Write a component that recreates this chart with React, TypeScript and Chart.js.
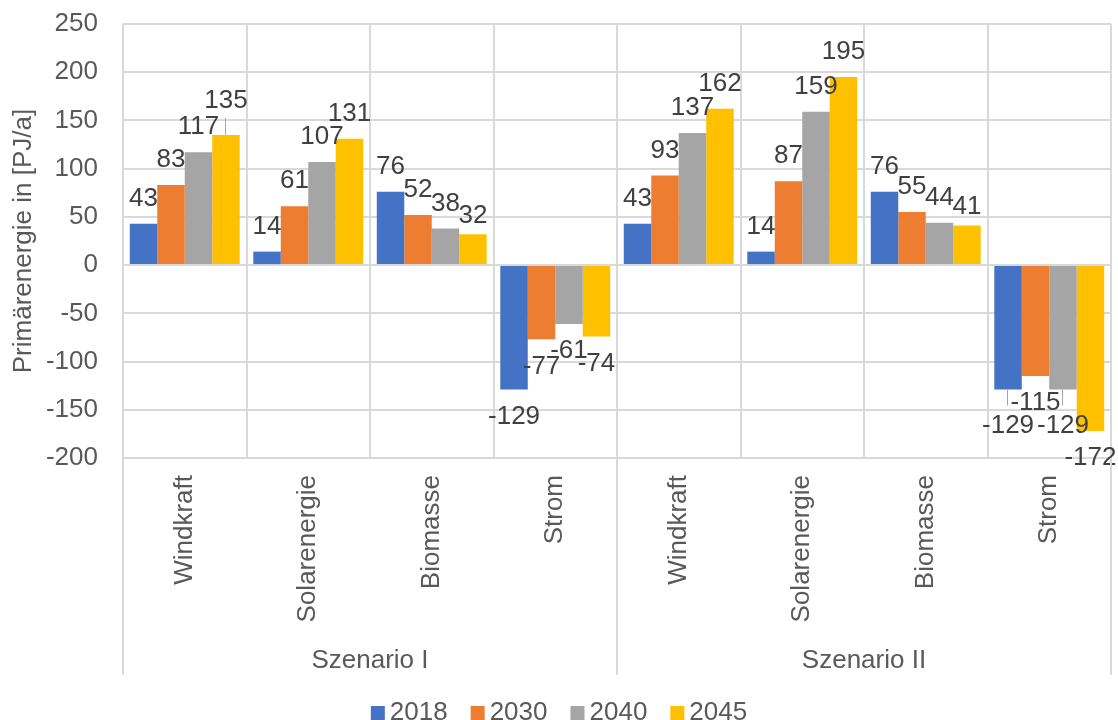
import React, { useEffect, useRef } from "react";
import { Chart, registerables } from "chart.js";

Chart.register(...registerables);

const categories = ["Windkraft", "Solarenergie", "Biomasse", "Strom", "Windkraft", "Solarenergie", "Biomasse", "Strom"];
const groupLabels = ["Szenario I", "Szenario II"];
const groupSizes = [4, 4];
const seriesNames = ["2018", "2030", "2040", "2045"];
const values2018 = [43, 14, 76, -129, 43, 14, 76, -129];
const values2030 = [83, 61, 52, -77, 93, 87, 55, -115];
const values2040 = [117, 107, 38, -61, 137, 159, 44, -129];
const values2045 = [135, 131, 32, -74, 162, 195, 41, -172];
const yMin = -200;
const yMax = 250;
const yStep = 50;
const yTitle = "Primärenergie in [PJ/a]";

const seriesColors = ["#4472C4", "#ED7D31", "#A5A5A5", "#FFC000"];
const FONT = "'Liberation Sans', Arial, sans-serif";
const FS = 26;
const AXIS_COLOR = "#595959";
const LABEL_COLOR = "#404040";
const GRID = "#D9D9D9";

// label tweaks (dataset-index): extra offset in px away from bar end, and leader line
const labelNudge: Record<string, { d: number; leader?: boolean }> = {
  "3-0": { d: 9, leader: true },
  "0-7": { d: 9, leader: true },
  "2-7": { d: 9, leader: true },
  "3-2": { d: -7 },
  "3-6": { d: -6 },
};

const dataLabelPlugin = {
  id: "dataLabels",
  afterDatasetsDraw(chart: any) {
    const ctx = chart.ctx;
    ctx.save();
    ctx.font = `${FS}px ${FONT}`;
    ctx.fillStyle = LABEL_COLOR;
    ctx.textAlign = "center";
    ctx.textBaseline = "middle";
    chart.data.datasets.forEach((ds: any, di: number) => {
      const meta = chart.getDatasetMeta(di);
      meta.data.forEach((el: any, i: number) => {
        const v = ds.data[i];
        const nudge = labelNudge[`${di}-${i}`];
        const off = 26 + (nudge ? nudge.d : 0);
        const cy = v >= 0 ? el.y - off : el.y + off;
        if (nudge && nudge.leader) {
          ctx.save();
          ctx.strokeStyle = "#A6A6A6";
          ctx.lineWidth = 1;
          ctx.beginPath();
          const x = Math.round(el.x) - 0.5;
          ctx.moveTo(x, el.y);
          ctx.lineTo(x, v >= 0 ? cy + 18 : cy - 19);
          ctx.stroke();
          ctx.restore();
        }
        ctx.fillText(String(v), el.x, cy + 1);
      });
    });
    ctx.restore();
  },
};

const groupAxisPlugin = {
  id: "groupAxis",
  afterDraw(chart: any) {
    const ctx = chart.ctx;
    const xs = chart.scales.x;
    const area = chart.chartArea;
    const bottom = 675;
    const half = (xs.getPixelForValue(1) - xs.getPixelForValue(0)) / 2;
    ctx.save();
    ctx.strokeStyle = GRID;
    ctx.lineWidth = 2;
    let start = 0;
    const bounds: number[] = [area.left];
    groupSizes.forEach((n) => {
      start += n;
      bounds.push(start >= categories.length ? area.right : xs.getPixelForValue(start - 1) + half);
    });
    bounds.forEach((bx) => {
      ctx.beginPath();
      ctx.moveTo(bx, area.bottom);
      ctx.lineTo(bx, bottom);
      ctx.stroke();
    });
    ctx.font = `${FS}px ${FONT}`;
    ctx.fillStyle = AXIS_COLOR;
    ctx.textAlign = "center";
    ctx.textBaseline = "alphabetic";
    groupLabels.forEach((g, gi) => {
      ctx.fillText(g, (bounds[gi] + bounds[gi + 1]) / 2, 668);
    });

    // legend
    const box = 14;
    const gapText = 5;
    const gapItem = 23;
    const widths = seriesNames.map((s) => box + gapText + ctx.measureText(s).width);
    const total = widths.reduce((a, b) => a + b, 0) + gapItem * (seriesNames.length - 1);
    let lx = (chart.width - total) / 2;
    ctx.textAlign = "left";
    seriesNames.forEach((s, i) => {
      ctx.fillStyle = seriesColors[i];
      ctx.fillRect(lx, 706, box, box);
      ctx.fillStyle = AXIS_COLOR;
      ctx.fillText(s, lx + box + gapText, 720);
      lx += widths[i] + gapItem;
    });
    ctx.restore();
  },
};

export default function App() {
  const ref = useRef<HTMLCanvasElement>(null);
  useEffect(() => {
    document.body.style.margin = "0";
    const seriesValues = [values2018, values2030, values2040, values2045];
    const chart = new Chart(ref.current as HTMLCanvasElement, {
      type: "bar",
      data: {
        labels: categories,
        datasets: seriesNames.map((n, i) => ({
          label: n,
          data: seriesValues[i],
          backgroundColor: seriesColors[i],
          borderWidth: 0,
          categoryPercentage: 0.89,
          barPercentage: 1.0,
        })),
      },
      options: {
        animation: false,
        responsive: true,
        maintainAspectRatio: false,
        layout: { padding: { top: 24, right: 7, left: 0, bottom: 0 } },
        plugins: {
          legend: { display: false },
          tooltip: { enabled: false },
        },
        scales: {
          x: {
            grid: { color: GRID, lineWidth: 2, drawTicks: false, offset: true },
            border: { display: false },
            ticks: {
              autoSkip: false,
              minRotation: 90,
              maxRotation: 90,
              padding: 17,
              color: AXIS_COLOR,
              font: { family: FONT, size: FS },
            },
            afterFit: (s: any) => {
              s.height = 262;
              s.paddingLeft = 0;
              s.paddingRight = 0;
            },
          },
          y: {
            min: yMin,
            max: yMax,
            grid: { color: GRID, lineWidth: 2, drawTicks: false },
            border: { display: false },
            ticks: {
              stepSize: yStep,
              padding: 25,
              color: AXIS_COLOR,
              font: { family: FONT, size: FS },
            },
            title: {
              display: true,
              text: yTitle,
              color: AXIS_COLOR,
              font: { family: FONT, size: FS },
              padding: { top: 8, bottom: 0 },
            },
            afterFit: (s: any) => {
              s.width = 123;
              s.paddingTop = 0;
              s.paddingBottom = 0;
            },
          },
        },
      },
      plugins: [dataLabelPlugin, groupAxisPlugin],
    } as any);
    return () => chart.destroy();
  }, []);
  return (
    <div style={{ width: 1118, height: 720, position: "relative" }}>
      <canvas ref={ref} />
    </div>
  );
}
